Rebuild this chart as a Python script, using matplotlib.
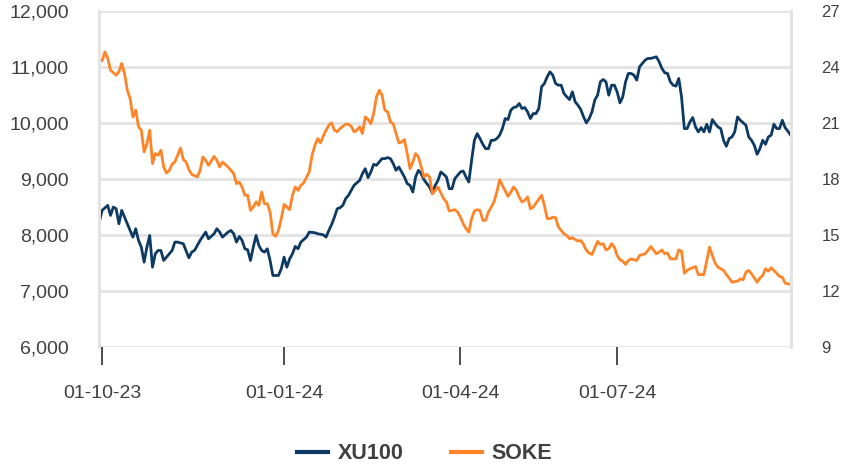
#!/usr/bin/env python3
"""
XU100 vs SOKE, daily closes (trading-day axis)
"""
import matplotlib
matplotlib.use('Agg')
from matplotlib import pyplot as plt

# trading-day index of each reading (0 = last session of Sep 2023)
xu100_days = [0, 1, 3, 4, 5, 6, 7, 8, 9, 10, 12, 13, 14, 15, 16, 17, 18, 19, 20, 21,
              22, 23, 25, 26, 27, 28, 30, 32, 33, 34, 36, 38, 39, 41, 42, 43, 44, 46, 47, 48,
              49, 50, 51, 52, 53, 54, 55, 56, 57, 58, 59, 60, 61, 62, 63, 64, 65, 66, 67, 68,
              69, 70, 71, 72, 74, 75, 77, 78, 80, 81, 82, 83, 84, 85, 86, 87, 88, 89, 90, 91,
              93, 94, 95, 96, 97, 98, 99, 100, 101, 102, 103, 104, 105, 106, 107, 108, 109, 110, 111, 112,
              113, 114, 115, 116, 117, 118, 119, 120, 121, 122, 123, 124, 125, 126, 127, 129, 130, 131, 132, 133,
              134, 135, 136, 137, 138, 139, 140, 141, 142, 143, 144, 145, 146, 147, 148, 149, 150, 151, 152, 153,
              154, 155, 156, 157, 158, 159, 160, 161, 162, 163, 164, 165, 166, 167, 168, 169, 170, 171, 172, 173,
              174, 175, 176, 177, 178, 179, 180, 181, 182, 183, 184, 185, 186, 187, 188, 189, 190, 191, 192, 193,
              194, 195, 196, 197, 199, 200, 201, 202, 203, 204, 205, 206, 207, 208, 209, 210, 211, 212, 213, 214,
              215, 216, 217, 218, 219, 220, 221, 222, 223, 224, 225, 226, 227, 228, 229, 231, 232, 233, 234, 235,
              236, 237, 238, 239, 240, 241, 242, 243, 244, 245, 246, 247]
xu100_vals = [8232, 8441, 8530, 8351, 8500, 8470, 8202, 8441, 8321, 8202, 7964, 8113, 7905, 7786, 7518, 7786, 7994, 7428, 7667, 7726,
              7726, 7548, 7667, 7726, 7875, 7875, 7845, 7595, 7696, 7726, 7905, 8054, 7934, 8024, 8113, 8054, 7964, 8054, 8083, 8024,
              7875, 7976, 7905, 7756, 7738, 7548, 7786, 7994, 7815, 7726, 7696, 7756, 7548, 7280, 7280, 7280, 7399, 7607, 7428, 7577,
              7667, 7798, 7756, 7875, 7964, 8054, 8042, 8024, 8006, 7964, 8083, 8190, 8321, 8470, 8488, 8530, 8649, 8708, 8797, 8887,
              8976, 9095, 9184, 9024, 9125, 9262, 9244, 9303, 9363, 9363, 9381, 9363, 9274, 9155, 9214, 9125, 9036, 8917, 8887, 8768,
              9036, 9155, 9095, 8988, 8917, 8857, 8738, 8887, 8976, 9125, 9083, 9036, 8827, 8827, 9006, 9125, 9143, 9036, 8946, 9333,
              9690, 9809, 9720, 9619, 9541, 9541, 9690, 9690, 9720, 9780, 9899, 10077, 10059, 10226, 10274, 10286, 10345, 10256, 10274, 10196,
              10077, 10166, 10166, 10256, 10643, 10702, 10821, 10910, 10851, 10702, 10672, 10672, 10524, 10464, 10416, 10553, 10375, 10315, 10238, 10107,
              10000, 10077, 10196, 10405, 10494, 10732, 10774, 10732, 10494, 10672, 10672, 10553, 10357, 10464, 10732, 10881, 10881, 10851, 10762, 11000,
              11059, 11119, 11149, 11149, 11178, 11089, 10970, 10893, 10881, 10732, 10672, 10655, 10792, 10464, 9899, 9899, 10018, 10095, 9928, 9839,
              9916, 9839, 9976, 9839, 10059, 9988, 9928, 9899, 9690, 9583, 9720, 9750, 9839, 10107, 10047, 9958, 9750, 9690, 9601, 9440,
              9541, 9690, 9619, 9750, 9780, 9976, 9899, 9899, 10047, 9916, 9851, 9780]

soke_days = [0, 1, 2, 3, 4, 5, 6, 7, 8, 9, 10, 11, 12, 13, 14, 15, 16, 17, 18, 19,
             20, 21, 22, 23, 24, 25, 26, 27, 29, 30, 31, 32, 33, 35, 36, 37, 38, 39, 41, 42,
             43, 44, 46, 47, 48, 49, 50, 51, 52, 53, 54, 55, 56, 57, 58, 59, 60, 61, 62, 63,
             64, 65, 66, 67, 68, 69, 70, 71, 72, 73, 75, 76, 77, 78, 79, 80, 81, 82, 83, 84,
             85, 86, 88, 89, 90, 91, 92, 93, 94, 95, 96, 97, 98, 99, 100, 101, 102, 103, 104, 105,
             106, 107, 108, 109, 110, 111, 112, 113, 114, 115, 116, 117, 118, 119, 120, 121, 122, 123, 124, 125,
             126, 127, 128, 129, 130, 131, 132, 133, 134, 135, 136, 137, 138, 139, 140, 141, 142, 143, 144, 145,
             146, 147, 148, 149, 150, 151, 152, 153, 154, 155, 156, 158, 159, 160, 161, 162, 163, 164, 165, 166,
             167, 168, 169, 171, 172, 173, 174, 175, 176, 177, 178, 179, 180, 181, 182, 183, 184, 185, 186, 187,
             188, 189, 190, 191, 192, 193, 195, 196, 197, 199, 200, 201, 202, 203, 204, 206, 207, 208, 209, 210,
             211, 213, 214, 216, 217, 218, 219, 220, 221, 223, 224, 225, 226, 228, 229, 230, 231, 232, 233, 235,
             236, 237, 238, 239, 240, 242, 243, 244, 245, 247]
soke_vals = [24.36, 24.32, 24.80, 24.45, 23.82, 23.68, 23.55, 23.73, 24.18, 23.64, 22.75, 22.30, 21.32, 21.68, 20.79, 20.61, 19.45, 19.89, 20.61, 18.82,
             19.36, 19.27, 19.54, 18.64, 18.32, 18.46, 18.79, 18.91, 19.66, 19.04, 18.91, 18.50, 18.25, 18.11, 18.46, 19.18, 19.00, 18.73, 19.21, 19.00,
             18.64, 18.91, 18.64, 18.46, 18.29, 17.75, 17.84, 17.57, 17.13, 17.13, 16.32, 16.50, 16.77, 16.59, 17.30, 16.68, 16.68, 16.23, 15.07, 14.93,
             15.25, 15.88, 16.64, 16.50, 16.36, 17.13, 17.57, 17.39, 17.66, 17.79, 18.38, 19.27, 19.80, 20.16, 19.93, 20.29, 20.61, 20.88, 21.00, 20.61,
             20.52, 20.70, 20.93, 20.93, 20.82, 20.52, 20.61, 20.79, 20.43, 21.32, 21.18, 20.96, 21.50, 22.39, 22.75, 22.48, 21.68, 21.59, 21.05, 20.96,
             20.43, 19.93, 19.98, 20.11, 19.36, 18.55, 18.91, 19.36, 19.18, 18.64, 18.11, 18.25, 18.11, 17.21, 17.39, 17.57, 17.25, 16.95, 16.77, 16.29,
             16.32, 16.36, 16.23, 15.96, 15.61, 15.34, 15.16, 15.88, 16.29, 16.36, 16.32, 15.79, 15.79, 16.23, 16.50, 16.77, 17.30, 17.96, 17.66, 17.36,
             17.07, 17.30, 17.57, 17.39, 17.04, 16.77, 16.86, 17.04, 16.41, 16.50, 16.71, 17.13, 16.59, 15.88, 15.88, 15.96, 15.93, 15.43, 15.25, 15.07,
             14.98, 14.80, 14.86, 14.68, 14.71, 14.50, 14.18, 14.04, 13.96, 14.32, 14.66, 14.50, 14.54, 14.21, 14.27, 14.54, 14.36, 13.91, 13.68, 13.61,
             13.43, 13.64, 13.73, 13.68, 13.64, 13.91, 14.00, 14.18, 14.39, 14.00, 14.09, 14.21, 14.00, 14.04, 13.73, 13.73, 14.21, 14.14, 12.96, 13.11,
             13.20, 13.32, 12.89, 12.89, 13.64, 14.36, 13.91, 13.50, 13.29, 13.11, 12.89, 12.71, 12.48, 12.54, 12.66, 12.61, 13.02, 13.11, 12.93, 12.48,
             12.71, 12.84, 13.20, 13.07, 13.25, 12.96, 12.79, 12.75, 12.43, 12.36]

tick_days = [1, 66, 129, 185]
tick_labels = ['01-10-23', '01-01-24', '01-04-24', '01-07-24']

NAVY = '#0d3a63'
ORANGE = '#ff8427'
GRID = '#e3e3e3'
TEXT = '#404040'

plt.rcParams['font.family'] = ['Liberation Sans', 'DejaVu Sans']

fig = plt.figure(figsize=(8.41, 4.69), dpi=100)
ax = fig.add_axes([0.1181, 0.2595, 0.8221, 0.7177])
ax2 = ax.twinx()

ax.plot(xu100_days, xu100_vals, color=NAVY, lw=2.0, label='XU100', solid_joinstyle='round')
ax2.plot(soke_days, soke_vals, color=ORANGE, lw=2.0, label='SOKE', solid_joinstyle='round')

ax.set_xlim(0, 247)
ax.set_ylim(6000, 12000)
ax2.set_ylim(9, 27)
ax.set_yticks(range(6000, 12001, 1000))
ax.set_yticklabels(['{:,}'.format(v) for v in range(6000, 12001, 1000)])
ax2.set_yticks(range(9, 28, 3))

# grid from the left axis only
ax.set_axisbelow(True)
ax.grid(axis='y', color=GRID, lw=2)
ax.set_xticks(tick_days)
ax.set_xticklabels(tick_labels)

for a in (ax, ax2):
    a.spines['top'].set_visible(False)
    a.spines['bottom'].set_visible(False)
    a.spines['left'].set_color(GRID)
    a.spines['right'].set_color(GRID)
    a.spines['left'].set_linewidth(2)
    a.spines['right'].set_linewidth(2)

ax.tick_params(axis='y', length=0, labelsize=14, labelcolor=TEXT, pad=22)
ax2.tick_params(axis='y', length=0, labelsize=12, labelcolor=TEXT, pad=22)

ax.tick_params(axis='x', direction='out', length=13, width=1.3, color=TEXT,
               labelsize=14, labelcolor=TEXT, pad=14)

h1, l1 = ax.get_legend_handles_labels()
h2, l2 = ax2.get_legend_handles_labels()
leg = fig.legend(h1 + h2, l1 + l2, loc='center', bbox_to_anchor=(0.505, 0.032), ncol=2,
                 frameon=False, handlelength=1.45, handletextpad=0.45, columnspacing=2.2,
                 prop={'size': 15.5, 'weight': 'bold'})
for t in leg.get_texts():
    t.set_color(TEXT)
for ln in leg.get_lines():
    ln.set_linewidth(3)

fig.savefig('out.png', dpi=100)
